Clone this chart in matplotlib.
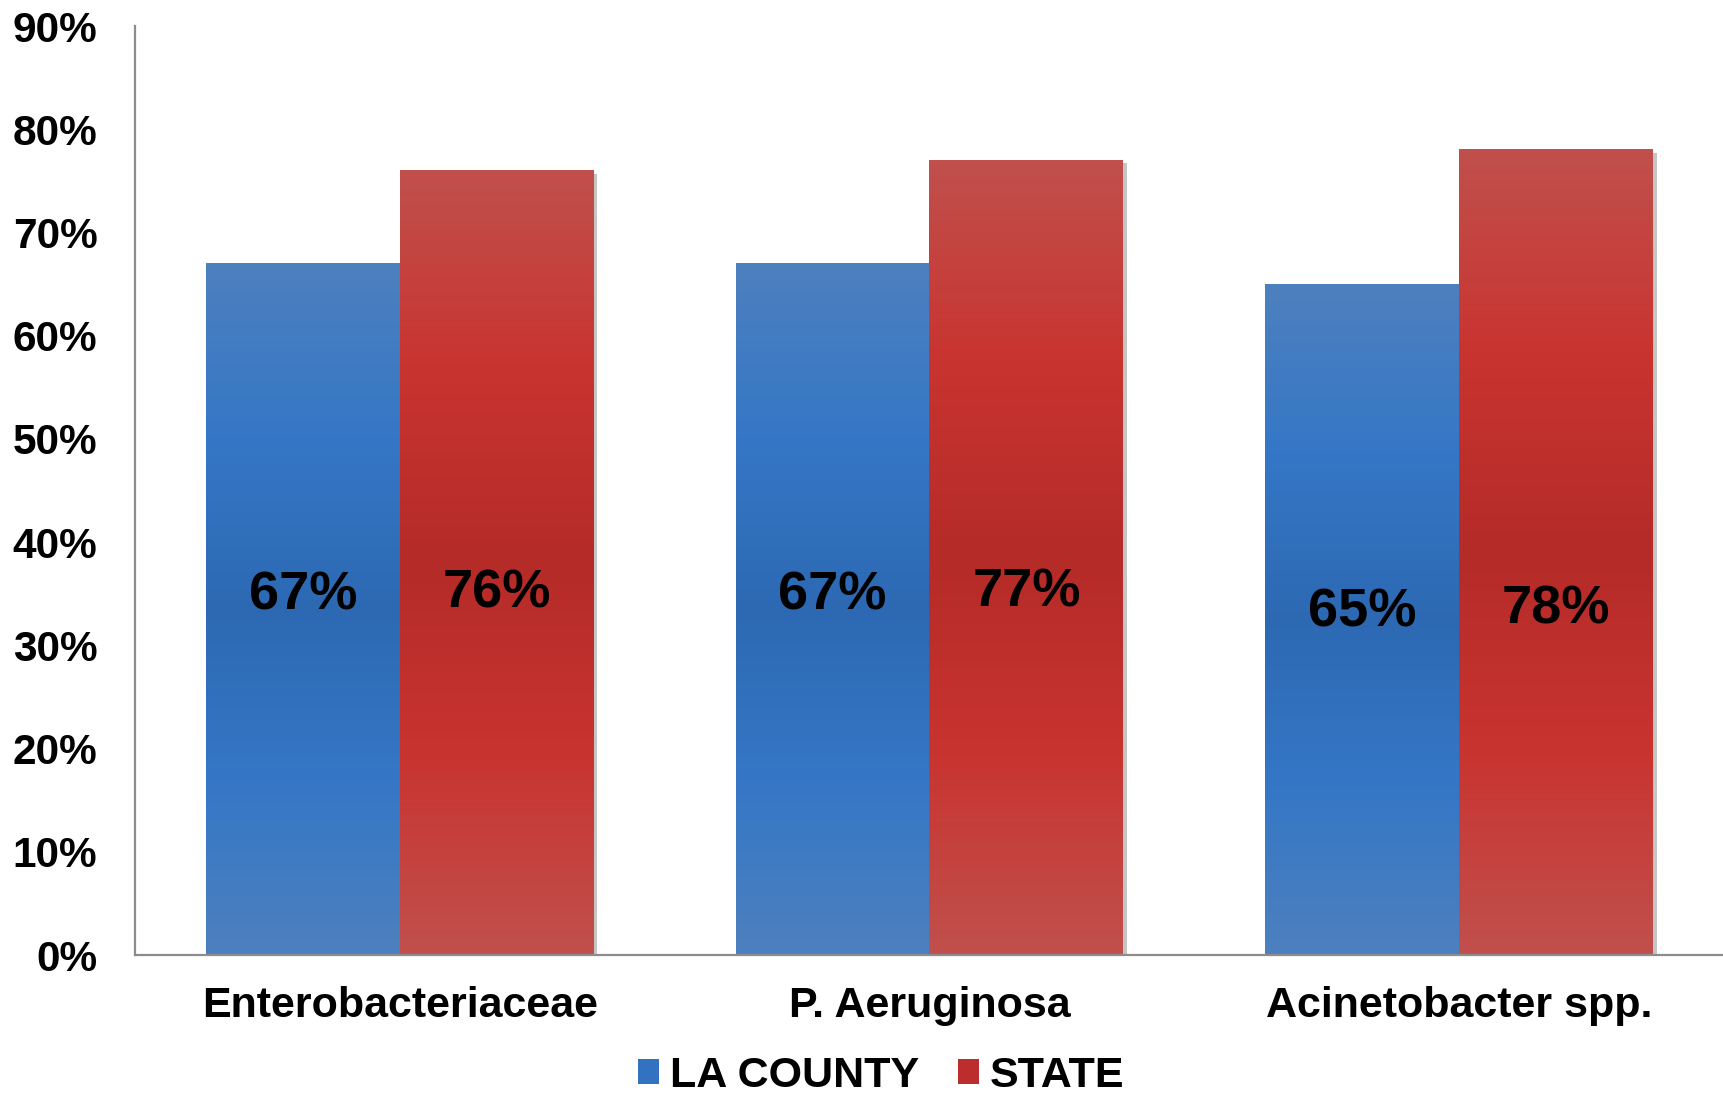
import numpy as np
import matplotlib
matplotlib.use("Agg")
from matplotlib import pyplot as plt
from matplotlib.colors import LinearSegmentedColormap
from matplotlib.patches import Patch

# data
categories = ['Enterobacteriaceae', 'P. Aeruginosa', 'Acinetobacter spp.']
la_county = [67, 67, 65]
state = [76, 77, 78]
series_names = ['LA COUNTY', 'STATE']
# vertical position (in %) where each value label sits
label_y_county = [34.8, 34.8, 33.2]
label_y_state = [35.0, 35.1, 33.5]
yticks = list(range(0, 91, 10))

plt.rcParams['font.family'] = ['Liberation Sans', 'DejaVu Sans']
plt.rcParams['font.weight'] = 'bold'

# edge -> bright -> dark middle -> bright -> edge
blue_cmap = LinearSegmentedColormap.from_list(
    'blue', ['#4D80BE', '#3577C6', '#2D69B3', '#3577C6', '#4D80BE'])
red_cmap = LinearSegmentedColormap.from_list(
    'red', ['#C0504D', '#C93430', '#B42B28', '#C93430', '#C0504D'])

fig = plt.figure(figsize=(17.24, 10.94), dpi=100)
ax = fig.add_axes([0.0783, 0.127, 0.9217, 0.8492])

x = np.arange(len(categories))
w = 0.366
grad = np.linspace(0, 1, 256).reshape(-1, 1)


def gradient_bars(xpos, heights, cmap):
    bars = ax.bar(xpos, heights, w, color='none', zorder=3)
    for rect in bars:
        x0 = rect.get_x()
        h = rect.get_height()
        # soft shadow to the right
        ax.bar(x0 + w / 2 + 0.007, h, w, bottom=-0.3, color='#7f7f7f',
               alpha=0.45, zorder=1, linewidth=0)
        ax.imshow(grad, cmap=cmap, aspect='auto', origin='lower',
                  extent=[x0, x0 + w, 0, h], zorder=2)
    return bars


gradient_bars(x - w / 2, la_county, blue_cmap)
gradient_bars(x + w / 2, state, red_cmap)

for i in range(len(categories)):
    ax.text(x[i] - w / 2, label_y_county[i], f'{la_county[i]}%', ha='center',
            va='center', fontsize=39, fontweight='bold', color='black', zorder=5)
    ax.text(x[i] + w / 2, label_y_state[i], f'{state[i]}%', ha='center',
            va='center', fontsize=39, fontweight='bold', color='black', zorder=5)

ax.set_xlim(-0.5, len(categories) - 0.5)
ax.set_ylim(0, 90)
ax.set_yticks(yticks)
ax.set_yticklabels([f'{t}%' for t in yticks], fontsize=30.5, fontweight='bold')
ax.set_xticks(x)
ax.set_xticklabels(categories, fontsize=31, fontweight='bold')
ax.tick_params(axis='both', length=0)
ax.tick_params(axis='y', pad=27)
ax.tick_params(axis='x', pad=22)

for s in ['top', 'right']:
    ax.spines[s].set_visible(False)
for s in ['left', 'bottom']:
    ax.spines[s].set_color('#8c8c8c')
    ax.spines[s].set_linewidth(1.6)
    ax.spines[s].set_zorder(4)

handles = [Patch(facecolor='#3272C0', edgecolor='none'),
           Patch(facecolor='#BC2E2B', edgecolor='none')]
fig.legend(handles, series_names, loc='center', bbox_to_anchor=(881 / 1724, 18 / 1094),
           ncol=2, frameon=False, prop={'size': 31, 'weight': 'bold'},
           handlelength=0.5, handleheight=0.5, handletextpad=0.25,
           columnspacing=0.9, borderaxespad=0, borderpad=0)

fig.savefig('out.png', dpi=100)
